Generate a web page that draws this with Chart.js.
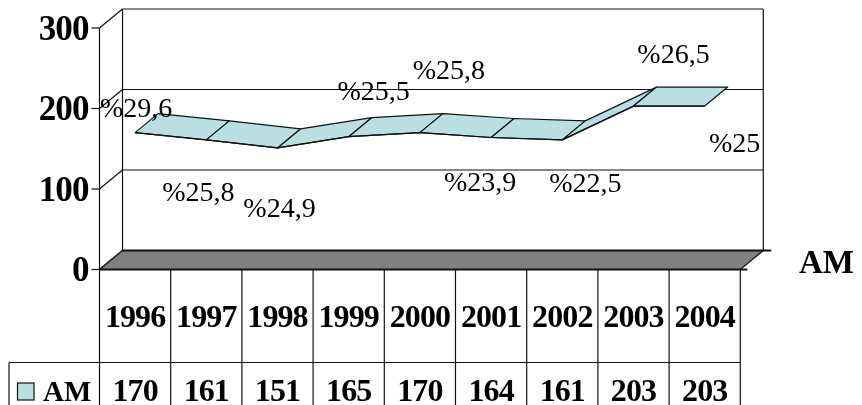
<!DOCTYPE html>
<html>
<head>
<meta charset="utf-8">
<style>
  html, body { margin: 0; padding: 0; background: #fff; overflow: hidden; }
  canvas { display: block; }
</style>
<script src="https://cdn.jsdelivr.net/npm/chart.js@4/dist/chart.umd.min.js"></script>
</head>
<body>
<canvas id="grafik" width="862" height="405"></canvas>
<script>
// chart data
const years = ['1996', '1997', '1998', '1999', '2000', '2001', '2002', '2003', '2004'];
const amValues = [170, 161, 151, 165, 170, 164, 161, 203, 203];
const shares = [29.6, 25.8, 24.9, 25.5, 25.8, 23.9, 22.5, 26.5, 25];
const yTicks = [0, 100, 200, 300];

// the labels were moved by hand in the original: [dx, dy] from the point
const labelOffsets = [[1, -16], [-8, 61], [2, 69], [25, -37], [29, -54], [-11, 54], [23, 52], [40, -43], [30, 46]];

const serif = '"Liberation Serif", serif';
const ribbonColor = '#B9DFE3';
const floorColor = '#808080';
const lineColor = '#111';

// how far the back wall sits from the front plane
const depthX = 23;
const depthY = 19;

function line(ctx, x1, y1, x2, y2) {
  ctx.beginPath();
  ctx.moveTo(x1, y1);
  ctx.lineTo(x2, y2);
  ctx.stroke();
}

// walls, floor and gridlines behind the series
const wallsPlugin = {
  id: 'walls',
  beforeDraw(chart) {
    // the bold text of the original is tall and narrow
    chart.ctx.letterSpacing = '-0.9px';
  },
  beforeDatasetsDraw(chart) {
    const ctx = chart.ctx;
    const { left, right, top, bottom } = chart.chartArea;
    const y = chart.scales.y;
    ctx.save();
    ctx.strokeStyle = lineColor;
    ctx.lineWidth = 1.2;

    yTicks.forEach(t => {
      const py = y.getPixelForValue(t);
      line(ctx, left - 8, py, left, py);
      line(ctx, left, py, left + depthX, py - depthY);
      line(ctx, left + depthX, py - depthY, right + depthX, py - depthY);
    });
    line(ctx, left + depthX, top - depthY, left + depthX, bottom - depthY);
    line(ctx, right + depthX, top - depthY, right + depthX, bottom - depthY);
    line(ctx, left, top, left, 405);

    // floor
    ctx.fillStyle = floorColor;
    ctx.beginPath();
    ctx.moveTo(left, bottom);
    ctx.lineTo(left + depthX, bottom - depthY);
    ctx.lineTo(right + depthX, bottom - depthY);
    ctx.lineTo(right, bottom);
    ctx.closePath();
    ctx.fill();
    ctx.stroke();
    ctx.lineWidth = 1.8;
    line(ctx, left + depthX, bottom - depthY, right + depthX + 8, bottom - depthY);
    line(ctx, left, bottom, right + 7, bottom);
    ctx.restore();

    // ribbon faces, left to right
    const pts = chart.getDatasetMeta(0).data;
    ctx.save();
    ctx.fillStyle = ribbonColor;
    ctx.strokeStyle = lineColor;
    ctx.lineWidth = 1.2;
    ctx.lineJoin = 'round';
    for (let i = 0; i < pts.length - 1; i++) {
      ctx.beginPath();
      ctx.moveTo(pts[i].x, pts[i].y);
      ctx.lineTo(pts[i + 1].x, pts[i + 1].y);
      ctx.lineTo(pts[i + 1].x + depthX, pts[i + 1].y - depthY);
      ctx.lineTo(pts[i].x + depthX, pts[i].y - depthY);
      ctx.closePath();
      ctx.fill();
      ctx.stroke();
    }
    ctx.restore();
  }
};

// share labels, data table and axis title
const textPlugin = {
  id: 'texts',
  afterDraw(chart) {
    const ctx = chart.ctx;
    const { left, right, bottom } = chart.chartArea;
    const x = chart.scales.x;
    const pts = chart.getDatasetMeta(0).data;
    const step = (right - left) / years.length;
    const rowY = 362.5;
    ctx.save();

    ctx.fillStyle = '#000';
    ctx.textAlign = 'center';
    ctx.textBaseline = 'alphabetic';
    ctx.letterSpacing = '0px';
    ctx.font = '28px ' + serif;
    shares.forEach((s, i) => {
      const txt = '%' + String(s).replace('.', ',');
      ctx.fillText(txt, pts[i].x + labelOffsets[i][0], pts[i].y + labelOffsets[i][1]);
    });

    // table lines
    ctx.strokeStyle = lineColor;
    ctx.lineWidth = 1.2;
    years.forEach((yr, i) => {
      const px = x.getPixelForValue(i) + step / 2;
      line(ctx, px, bottom, px, 405);
    });
    line(ctx, 9, rowY, right, rowY);
    line(ctx, 9, rowY, 9, 405);

    // table values
    ctx.letterSpacing = '-0.9px';
    ctx.font = 'bold 32px ' + serif;
    amValues.forEach((v, i) => {
      ctx.fillText(String(v), x.getPixelForValue(i), 401);
    });

    // legend key
    ctx.fillStyle = ribbonColor;
    ctx.fillRect(17.5, 383, 16.5, 17);
    ctx.strokeRect(17.5, 383, 16.5, 17);
    ctx.fillStyle = '#000';
    ctx.textAlign = 'left';
    ctx.letterSpacing = '0px';
    ctx.font = 'bold 29px ' + serif;
    ctx.fillText('AM', 43, 401);

    // axis title
    ctx.font = 'bold 33px ' + serif;
    ctx.fillText('AM', 799, 273);
    ctx.restore();
  }
};

new Chart(document.getElementById('grafik'), {
  type: 'line',
  data: {
    labels: years,
    datasets: [{
      label: 'AM',
      data: amValues,
      borderColor: lineColor,
      borderWidth: 1.2,
      backgroundColor: ribbonColor,
      fill: false,
      tension: 0,
      pointRadius: 0,
      clip: false
    }]
  },
  plugins: [wallsPlugin, textPlugin],
  options: {
    responsive: false,
    animation: false,
    layout: { padding: { top: 28, right: 121.7, left: 0, bottom: 0 } },
    plugins: { legend: { display: false }, tooltip: { enabled: false } },
    scales: {
      x: {
        offset: true,
        grid: { display: false },
        border: { display: false },
        afterFit(scale) { scale.height = 135.5; },
        ticks: {
          autoSkip: false,
          maxRotation: 0,
          minRotation: 0,
          padding: 22,
          color: '#000',
          font: { family: serif, size: 32, weight: 'bold' }
        }
      },
      y: {
        min: 0,
        max: 300,
        grid: { display: false },
        border: { display: false },
        afterFit(scale) { scale.width = 99.5; },
        ticks: {
          stepSize: 100,
          padding: 3,
          labelOffset: 2.5,
          color: '#000',
          font: { family: serif, size: 35, weight: 'bold' }
        }
      }
    }
  }
});
</script>
</body>
</html>
